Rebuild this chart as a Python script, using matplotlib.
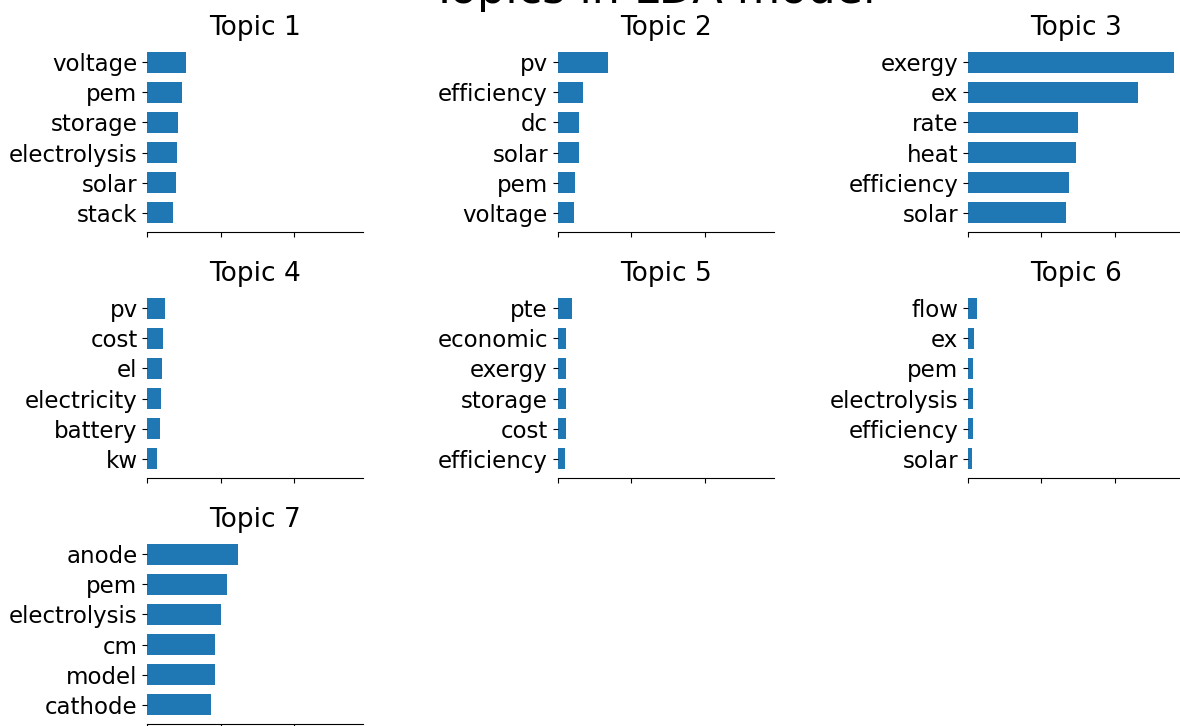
import matplotlib
matplotlib.use("Agg")
import matplotlib.pyplot as plt

title = "Topics in LDA model"
topic_titles = ["Topic 1", "Topic 2", "Topic 3", "Topic 4", "Topic 5", "Topic 6", "Topic 7"]

topic1_words = ["voltage", "pem", "storage", "electrolysis", "solar", "stack"]
topic1_weights = [52.3, 47.6, 42.2, 40.8, 39.5, 35.0]

topic2_words = ["pv", "efficiency", "dc", "solar", "pem", "voltage"]
topic2_weights = [68.0, 34.8, 29.0, 29.0, 23.1, 21.8]

topic3_words = ["exergy", "ex", "rate", "heat", "efficiency", "solar"]
topic3_weights = [280.0, 231.0, 150.0, 147.0, 137.5, 134.0]

topic4_words = ["pv", "cost", "el", "electricity", "battery", "kw"]
topic4_weights = [24.1, 21.0, 19.6, 18.2, 17.3, 13.2]

topic5_words = ["pte", "economic", "exergy", "storage", "cost", "efficiency"]
topic5_weights = [19.9, 11.3, 10.9, 10.9, 10.9, 9.9]

topic6_words = ["flow", "ex", "pem", "electrolysis", "efficiency", "solar"]
topic6_weights = [11.8, 8.6, 7.2, 6.8, 6.4, 5.0]

topic7_words = ["anode", "pem", "electrolysis", "cm", "model", "cathode"]
topic7_weights = [123.5, 108.3, 99.8, 92.6, 92.0, 86.2]

words = [topic1_words, topic2_words, topic3_words, topic4_words,
         topic5_words, topic6_words, topic7_words]
weights = [topic1_weights, topic2_weights, topic3_weights, topic4_weights,
           topic5_weights, topic6_weights, topic7_weights]

W, H = 1180, 726
fig = plt.figure(figsize=(W / 100, H / 100), dpi=100)

col_lefts = [147.3, 557.7, 968.0]
row_tops = [43.0, 289.0, 535.0]
ax_w, ax_h = 216.0, 189.0

xmax = max(max(w) for w in weights)
first_ax = None
for i, (wds, wts) in enumerate(zip(words, weights)):
    r, c = divmod(i, 3)
    rect = [col_lefts[c] / W, 1 - (row_tops[r] + ax_h) / H, ax_w / W, ax_h / H]
    if first_ax is None:
        ax = fig.add_axes(rect)
        first_ax = ax
    else:
        ax = fig.add_axes(rect, sharex=first_ax)
    ax.barh(wds, wts, height=0.7, color="#1f77b4")
    ax.invert_yaxis()
    ax.set_title(topic_titles[i], fontsize=19)
    ax.tick_params(axis="both", which="major", labelsize=16.5)
    ax.tick_params(axis="x", labelbottom=False)
    for s in ["top", "right", "left"]:
        ax.spines[s].set_visible(False)

first_ax.set_xlim(0, xmax * 1.05)
first_ax.set_xticks([0, 100, 200])

fig.text(653 / W, 1 - 3 / H, title, ha="center", va="baseline", fontsize=32)

fig.savefig("out.png", dpi=100)
